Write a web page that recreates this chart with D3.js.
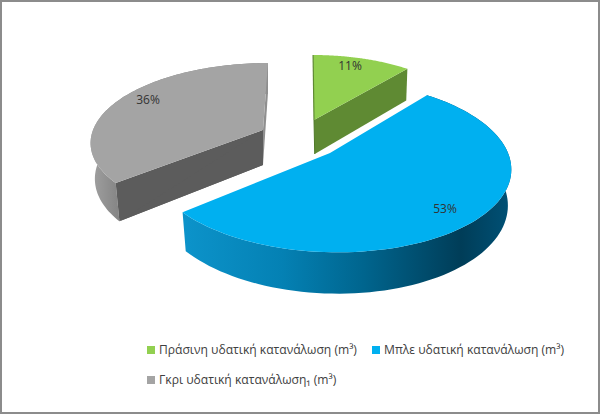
<!DOCTYPE html>
<html lang="el">
<head>
    <meta charset="UTF-8">
    <title>Υδατική κατανάλωση</title>
    <style>
        body { margin: 0; padding: 0; background: white; overflow: hidden; }
        text { font-family: "Open Sans", "Noto Sans", sans-serif; fill: #404040; }
    </style>
</head>
<body>
    <svg id="chart" width="600" height="414"></svg>
    <script src="https://d3js.org/d3.v7.min.js"></script>
    <script>
        const categories = ["Πράσινη υδατική κατανάλωση (m³)", "Μπλε υδατική κατανάλωση (m³)", "Γκρι υδατική κατανάλωση₁ (m³)"];
        const values = [11, 53, 36];
        const topColors = ["#92d050", "#00b0f0", "#a4a4a4"];
        const wallColors = ["#5f8a33", "#0a6f99", "#5c5c5c"];

        // perspective fit of each exploded slice: apex, radii, shear, foreshortening, depth, vanishing
        const sliceLayout = [
            { cx: 314, cy: 120, rx: 159, ry: 71.5, sx: -1, k: 0.10, depth: 34, vx: 350, vf: 0.98, labelX: 350, labelY: 66 },
            { cx: 330, cy: 153, rx: 178, ry: 84, sx: -6.6, k: 0.154, depth: 35, vx: 340, vf: 0.98, labelX: 445, labelY: 209 },
            { cx: 263, cy: 130, rx: 170, ry: 76, sx: 5.7, k: 0.135, depth: 35, vx: 263, vf: 0.975, labelX: 148, labelY: 100 }
        ];

        const svg = d3.select("#chart");
        const defs = svg.append("defs");

        function addGradient(id, x1, x2, stops) {
            const g = defs.append("linearGradient").attr("id", id)
                .attr("gradientUnits", "userSpaceOnUse")
                .attr("x1", x1).attr("x2", x2).attr("y1", 0).attr("y2", 0);
            stops.forEach(s => g.append("stop").attr("offset", s[0]).attr("stop-color", s[1]));
        }
        addGradient("blueWall", 184, 510, [[0, "#0c93ca"], [0.3, "#0481b4"], [0.55, "#00658e"], [0.85, "#003d58"], [1, "#005176"]]);
        addGradient("greyWall", 92, 118, [[0, "#a0a0a0"], [1, "#858585"]]);

        // top surface point of a slice at pie angle a (radial fraction r)
        function project(s, a, r) {
            const u = Math.sin(a) * r, v = Math.cos(a) * r;
            const w = 1 + s.k * v;
            return [s.cx + (s.rx * u + s.sx * v) / w, s.cy - s.ry * v / w, s.depth / w];
        }
        function drop(s, p) {
            return [s.vx + (p[0] - s.vx) * s.vf, p[1] + p[2]];
        }

        const pie = d3.pie().sort(null).value(d => d)(values);
        const line = d3.line();
        const closed = pts => line(pts) + "Z";

        const order = [2, 0, 1];
        order.forEach(i => {
            const s = sliceLayout[i], arc = pie[i];
            const n = 90;
            const rim = d3.range(n + 1).map(j => {
                const a = arc.startAngle + (arc.endAngle - arc.startAngle) * j / n;
                return project(s, a, 1);
            });
            const apex = project(s, 0, 0);
            const rimTop = rim.map(p => [p[0], p[1]]);
            const rimBottom = rim.map(p => drop(s, p));
            const g = svg.append("g");

            // outer wall
            if (i !== 0) {
                g.append("path")
                    .attr("d", closed(rimTop.concat(rimBottom.slice().reverse())))
                    .attr("fill", i === 1 ? "url(#blueWall)" : "url(#greyWall)");
            }
            // cut wall that faces the viewer
            if (i !== 1) {
                const first = i === 2 ? rim[0] : rim[n];
                g.append("path")
                    .attr("d", closed([[apex[0], apex[1]], [first[0], first[1]], drop(s, first), drop(s, apex)]))
                    .attr("fill", wallColors[i]);
            }
            // sliver of the other cut wall on the grey slice
            if (i === 2) {
                g.append("path")
                    .attr("d", closed([[apex[0], apex[1]], rimTop[n], rimBottom[n], drop(s, apex)]))
                    .attr("fill", "#8f8f8f");
                g.append("path")
                    .attr("d", closed([[apex[0], apex[1]], drop(s, rim[0]), drop(s, apex)]))
                    .attr("fill", wallColors[i]);
            }
            // top surface
            g.append("path")
                .attr("d", closed([[apex[0], apex[1]]].concat(rimTop)))
                .attr("fill", topColors[i]);
            // thin dark edge on the green slice
            if (i === 0) {
                g.append("line")
                    .attr("x1", rim[0][0]).attr("y1", rim[0][1])
                    .attr("x2", apex[0]).attr("y2", apex[1])
                    .attr("stroke", "#5f8a33").attr("stroke-width", 1.2);
                const b = drop(s, apex);
                g.append("line")
                    .attr("x1", apex[0]).attr("y1", apex[1])
                    .attr("x2", b[0]).attr("y2", b[1])
                    .attr("stroke", "#4f7a28").attr("stroke-width", 1);
            }
        });

        // data labels
        svg.selectAll("text.pct").data(values).enter().append("text")
            .attr("class", "pct")
            .attr("x", (d, i) => sliceLayout[i].labelX)
            .attr("y", (d, i) => sliceLayout[i].labelY + 4)
            .attr("text-anchor", "middle")
            .attr("font-size", 12)
            .style("fill", "#333")
            .text(d => d + "%");

        // legend
        const legendPos = [[147, 353], [372, 353], [147, 383]];
        const legend = svg.selectAll("g.legend").data(categories).enter().append("g")
            .attr("class", "legend")
            .attr("transform", (d, i) => `translate(${legendPos[i][0]},${legendPos[i][1]})`);
        legend.append("rect")
            .attr("x", 0).attr("y", -7).attr("width", 8).attr("height", 8)
            .attr("fill", (d, i) => topColors[i]);
        legend.append("text")
            .attr("x", 12).attr("y", 1)
            .attr("font-size", 12.1)
            .text(d => d);

        // picture border
        svg.append("rect")
            .attr("x", 1).attr("y", 1).attr("width", 598).attr("height", 412)
            .attr("fill", "none").attr("stroke", "#8c8c8c").attr("stroke-width", 2);
    </script>
</body>
</html>
